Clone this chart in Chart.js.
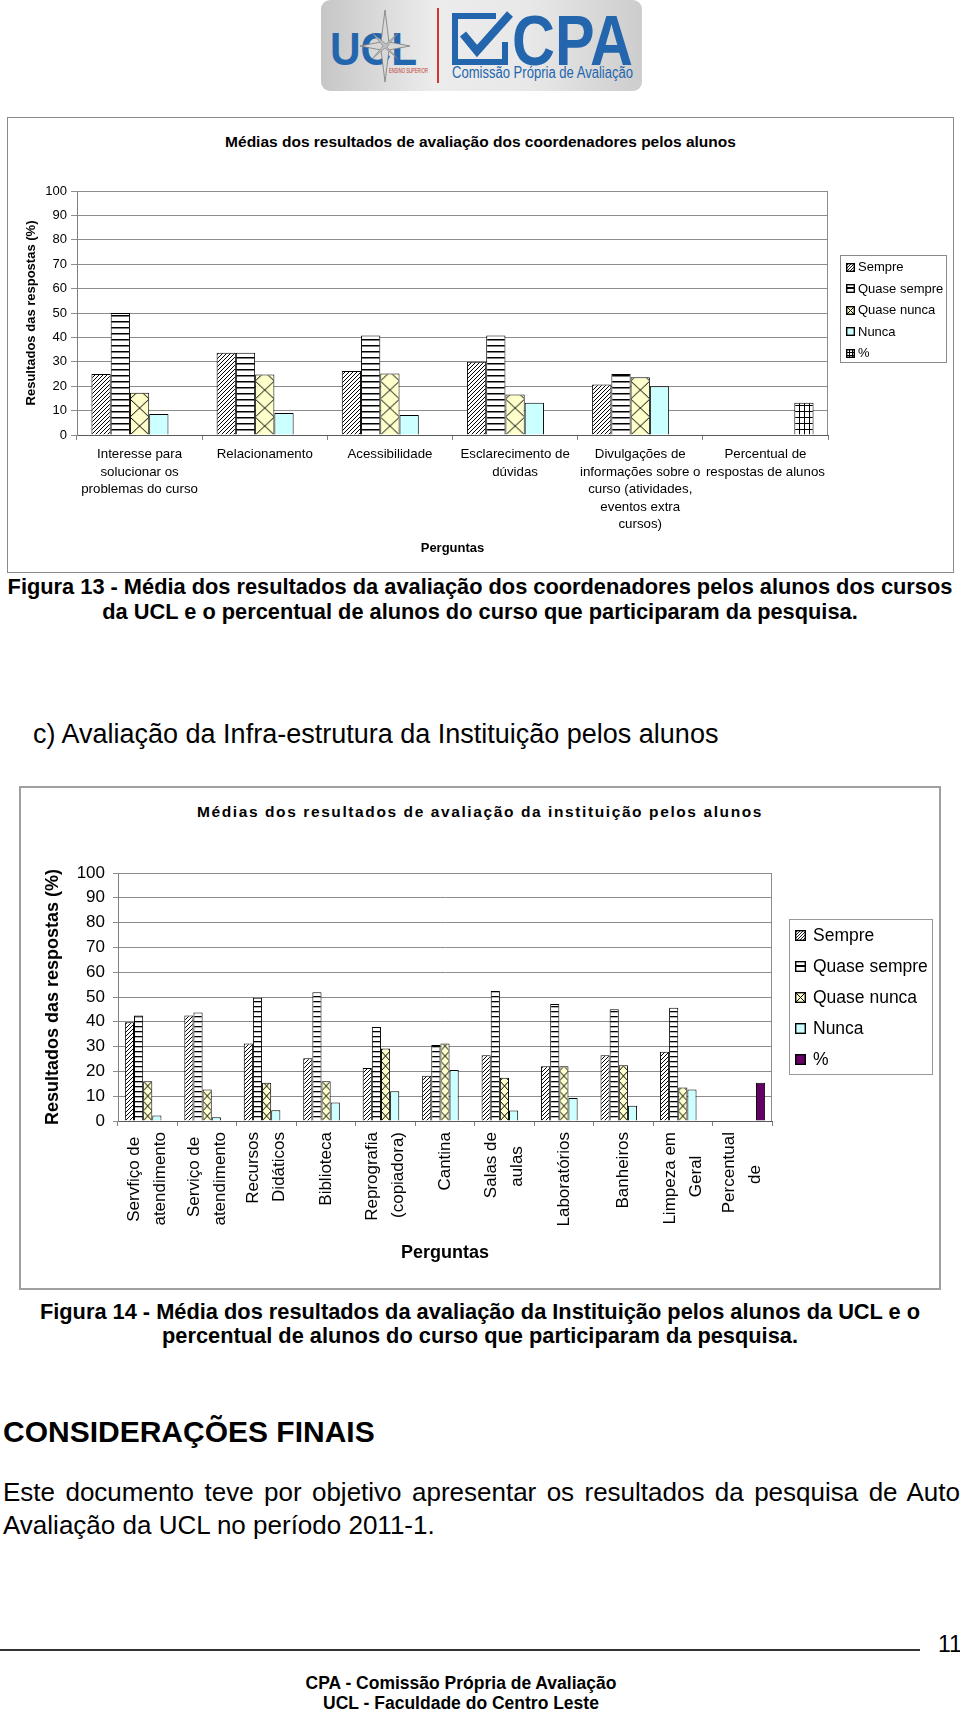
<!DOCTYPE html>
<html><head><meta charset="utf-8">
<script src="https://cdn.jsdelivr.net/npm/chart.js@4.4.1/dist/chart.umd.min.js"></script>
<style>
*{box-sizing:border-box;}
html,body{margin:0;padding:0;background:#fff;}
body{width:960px;height:1710px;position:relative;overflow:hidden;font-family:"Liberation Sans",Arial,Helvetica,sans-serif;color:#000;}
.t{position:absolute;white-space:nowrap;}
.box{position:absolute;}
canvas.chart{position:absolute;}
.leg{position:absolute;}
.sw{position:absolute;}
.lt{position:absolute;white-space:nowrap;}
</style></head><body>

<svg class="box" style="left:320px;top:0px" width="323" height="93" viewBox="0 0 323 93">
  <defs>
    <linearGradient id="lg" x1="0" y1="0" x2="1" y2="0">
      <stop offset="0" stop-color="#c6c6c6"/>
      <stop offset="0.35" stop-color="#ececec"/>
      <stop offset="0.65" stop-color="#e8e8e8"/>
      <stop offset="1" stop-color="#cdcdcd"/>
    </linearGradient>
  </defs>
  <rect x="1" y="0" width="321" height="91" rx="9" fill="url(#lg)"/>
  <text x="10" y="65" font-family="Liberation Sans, Arial" font-weight="bold" font-size="46" fill="#2466ad" textLength="87" lengthAdjust="spacingAndGlyphs">UCL</text>
  <polygon points="65,10 69,42 90,46 69,50 65,82 61,50 40,46 61,42" fill="#d8d8d8" stroke="#7a7a7a" stroke-width="0.8"/>
  <polygon points="52,33 66,44 78,33 67,47 78,59 65,48 52,59 63,46" fill="#bdbdbd" stroke="#7a7a7a" stroke-width="0.6"/>
  <text x="69" y="73" font-family="Liberation Sans, Arial" font-size="6.5" fill="#c0392b" textLength="39" lengthAdjust="spacingAndGlyphs">ENSINO SUPERIOR</text>
  <line x1="118" y1="8" x2="118" y2="83" stroke="#d9342b" stroke-width="2"/>
  <path d="M176 16 L135 16 L135 62 L185 62 L185 42" fill="none" stroke="#2466ad" stroke-width="6"/>
  <path d="M143 34 L157 51 L190 14" fill="none" stroke="#2466ad" stroke-width="8"/>
  <text x="192" y="65" font-family="Liberation Sans, Arial" font-weight="bold" font-size="70" fill="#2466ad" textLength="121" lengthAdjust="spacingAndGlyphs">CPA</text>
  <text x="132" y="78" font-family="Liberation Sans, Arial" font-size="16" fill="#2466ad" textLength="181" lengthAdjust="spacingAndGlyphs">Comissão Própria de Avaliação</text>
</svg>

<!-- Chart 1 -->
<div class="box" style="left:7px;top:117px;width:947px;height:456px;border:1px solid #8a8a8a;"></div>
<div class="t" style="left:7px;width:947px;top:132px;line-height:20px;text-align:center;font-weight:bold;font-size:15.5px;">Médias dos resultados de avaliação dos coordenadores pelos alunos</div>
<canvas id="c1" class="chart" width="945" height="454" style="left:8px;top:118px;width:945px;height:454px;"></canvas>
<div class="leg" id="leg1" style="left:840px;top:255px;width:107px;height:108px;border:1px solid #8a8a8a;"></div>

<div class="t" style="left:0;width:960px;top:574px;line-height:25px;text-align:center;font-weight:bold;font-size:21.8px;">Figura 13 - Média dos resultados da avaliação dos coordenadores pelos alunos dos cursos<br>da UCL e o percentual de alunos do curso que participaram da pesquisa.</div>

<div class="t" style="left:33px;top:718px;line-height:32px;font-size:27px;">c) Avaliação da Infra-estrutura da Instituição pelos alunos</div>

<!-- Chart 2 -->
<div class="box" style="left:19px;top:786px;width:922px;height:504px;border:2px solid #a0a0a0;"></div>
<div class="t" style="left:19px;width:922px;top:802px;line-height:20px;text-align:center;font-weight:bold;font-size:15.5px;letter-spacing:1.6px;">Médias dos resultados de avaliação da instituição pelos alunos</div>
<canvas id="c2" class="chart" width="918" height="500" style="left:21px;top:788px;width:918px;height:500px;"></canvas>
<div class="leg" id="leg2" style="left:789px;top:919px;width:144px;height:156px;border:1px solid #999;"></div>

<div class="t" style="left:0;width:960px;top:1300px;line-height:24px;text-align:center;font-weight:bold;font-size:21.8px;">Figura 14 - Média dos resultados da avaliação da Instituição pelos alunos da UCL e o<br>percentual de alunos do curso que participaram da pesquisa.</div>

<div class="t" style="left:3px;top:1414px;line-height:36px;font-weight:bold;font-size:30px;">CONSIDERAÇÕES FINAIS</div>
<div class="t" style="left:3px;width:957px;top:1476px;line-height:33px;font-size:26px;text-align:justify;text-align-last:justify;white-space:normal;">Este documento teve por objetivo apresentar os resultados da pesquisa de Auto</div>
<div class="t" style="left:3px;top:1509px;line-height:33px;font-size:26px;">Avaliação da UCL no período 2011-1.</div>

<div class="box" style="left:0;top:1649px;width:920px;height:1.5px;background:#333;"></div>
<div class="t" style="left:938px;top:1630px;line-height:28px;font-size:23px;">11</div>
<div class="t" style="left:0;width:922px;top:1673px;line-height:20px;text-align:center;font-weight:bold;font-size:17.5px;">CPA - Comissão Própria de Avaliação<br>UCL - Faculdade do Centro Leste</div>

<script>
// ---------------- DATA ----------------
const seriesNames = ["Sempre", "Quase sempre", "Quase nunca", "Nunca", "%"];
const yTickValues = [0, 10, 20, 30, 40, 50, 60, 70, 80, 90, 100];

const c1Categories = [
  ["Interesse para", "solucionar os", "problemas do curso"],
  ["Relacionamento"],
  ["Acessibilidade"],
  ["Esclarecimento de", "dúvidas"],
  ["Divulgações de", "informações sobre o", "curso (atividades,", "eventos extra", "cursos)"],
  ["Percentual de", "respostas de alunos"]
];
const c1Sempre       = [25.0, 33.7, 26.2, 30.0, 20.7, null];
const c1QuaseSempre  = [50.0, 33.7, 40.8, 40.8, 25.0, null];
const c1QuaseNunca   = [17.3, 24.8, 25.2, 16.6, 23.7, null];
const c1Nunca        = [ 8.6,  9.0,  8.2, 13.2, 20.0, null];
const c1Percent      = [null, null, null, null, null, 13.2];

const c2Categories = [
  ["Servfiço de", "atendimento"],
  ["Serviço de", "atendimento"],
  ["Recursos", "Didáticos"],
  ["Biblioteca"],
  ["Reprografia", "(copiadora)"],
  ["Cantina"],
  ["Salas de", "aulas"],
  ["Laboratórios"],
  ["Banheiros"],
  ["Limpeza em", "Geral"],
  ["Percentual", "de"]
];
const c2Sempre      = [39.8, 42.5, 31.3, 25.3, 21.4, 18.2, 26.5, 22.1, 26.5, 27.9, null];
const c2QuaseSempre = [42.5, 43.8, 49.7, 51.9, 37.9, 30.6, 52.4, 47.2, 45.1, 45.7, null];
const c2QuaseNunca  = [16.0, 12.7, 15.4, 16.0, 29.2, 31.3, 17.4, 22.1, 22.5, 13.5, null];
const c2Nunca       = [ 2.2,  1.5,  4.3,  7.5, 12.0, 20.6,  4.2,  9.3,  6.1, 12.7, null];
const c2Percent     = [null, null, null, null, null, null, null, null, null, null, 15.4];

// ---------------- STYLE HELPERS ----------------
const FAMILY = '"Liberation Sans", Arial, Helvetica, sans-serif';
Chart.defaults.font.family = FAMILY;
Chart.defaults.color = '#000';
const CAT_PCT = 5 / 6.5;

function buildTile(kind, s) {
  const c = document.createElement('canvas');
  c.width = s.w; c.height = s.h;
  const g = c.getContext('2d');
  g.fillStyle = s.bg || '#fff';
  g.fillRect(0, 0, s.w, s.h);
  g.strokeStyle = '#000'; g.fillStyle = '#000';
  g.lineWidth = s.lw || 1;
  if (kind === 'diag') {
    g.beginPath();
    for (let k = -1; k <= 1; k++) { g.moveTo(k * s.w, s.h); g.lineTo(k * s.w + s.w, 0); }
    g.stroke();
  } else if (kind === 'horiz') {
    g.fillRect(0, 0, s.w, s.lw || 1);
  } else if (kind === 'cross') {
    g.beginPath();
    g.moveTo(0, 0); g.lineTo(s.w, s.h);
    g.moveTo(s.w, 0); g.lineTo(0, s.h);
    g.stroke();
  } else if (kind === 'grid') {
    g.fillRect(0, 0, s.w, 1);
    g.fillRect(0, 0, 1, s.h);
  }
  return c;
}

function barFill(kind, spec) {
  if (kind === 'solid') return spec.color;
  const tile = buildTile(kind, spec);
  return function (ctx) {
    const chart = ctx.chart;
    const g = chart.ctx;
    const xs = chart.scales && chart.scales.x;
    const ys = chart.scales && chart.scales.y;
    const p = g.createPattern(tile, 'repeat');
    if (ctx.type !== 'data' || !xs || !xs.width || !ys) return p;
    const n = chart.data.labels.length;
    const size = (xs.width / n) * CAT_PCT;
    const chunk = size / chart.data.datasets.length;
    const left = xs.getPixelForValue(ctx.dataIndex) - size / 2 + chunk * ctx.datasetIndex;
    const base = Math.round(ys.getPixelForValue(0));
    const sx = spec.fit ? chunk / tile.width : 1;
    p.setTransform(new DOMMatrix().translate(spec.fit ? left : Math.round(left), base).scale(sx, 1));
    return p;
  };
}

const plotFrame = {
  id: 'plotFrame',
  beforeDatasetsDraw(chart, args, opts) {
    const { ctx, chartArea: a } = chart;
    ctx.save();
    ctx.strokeStyle = opts.color || '#808080';
    ctx.lineWidth = 1;
    const r = Math.round(a.right) - 0.5, t = Math.round(a.top) + 0.5;
    ctx.beginPath();
    ctx.moveTo(Math.round(a.left), t); ctx.lineTo(r, t); ctx.lineTo(r, Math.round(a.bottom));
    ctx.stroke();
    ctx.restore();
  }
};

function makeDatasets(values, fills) {
  return values.map((v, i) => ({
    label: seriesNames[i],
    data: v,
    backgroundColor: fills[i],
    borderColor: '#000',
    borderWidth: 1,
    borderSkipped: 'bottom',
    categoryPercentage: CAT_PCT,
    barPercentage: 1
  }));
}

// ---------------- CHART 1 ----------------
const fills1 = [
  barFill('diag', { w: 4, h: 4, lw: 1 }),
  barFill('horiz', { w: 1, h: 6, lw: 1.5 }),
  barFill('cross', { w: 19, h: 18, lw: 1, bg: '#ffffcc', fit: true }),
  barFill('solid', { color: '#ccffff' }),
  barFill('grid', { w: 5, h: 6 })
];

new Chart(document.getElementById('c1'), {
  type: 'bar',
  data: {
    labels: c1Categories,
    datasets: makeDatasets([c1Sempre, c1QuaseSempre, c1QuaseNunca, c1Nunca, c1Percent], fills1)
  },
  plugins: [plotFrame],
  options: {
    responsive: false, animation: false, devicePixelRatio: 1,
    layout: { padding: { top: 73, right: 125, left: 0, bottom: 0 } },
    plugins: { legend: { display: false }, tooltip: { enabled: false }, title: { display: false }, plotFrame: { color: '#8c8c8c' } },
    scales: {
      x: {
        afterFit: (s) => { s.height = 137; },
        grid: { display: true, drawOnChartArea: false, drawTicks: true, tickLength: 5, color: '#808080', offset: true },
        border: { display: true, color: '#5a5a5a' },
        ticks: { maxRotation: 0, minRotation: 0, autoSkip: false, padding: 6, font: { size: 13.3, lineHeight: '17.5px' }, color: '#000' },
        title: { display: true, text: 'Perguntas', font: { size: 13, weight: 'bold' }, padding: { top: 0, bottom: 16 } }
      },
      y: {
        min: 0, max: 100,
        afterFit: (s) => { s.width = 69; },
        afterBuildTicks: (s) => { s.ticks = yTickValues.map(v => ({ value: v })); },
        grid: { color: '#8c8c8c', tickLength: 6, drawTicks: true },
        border: { display: true, color: '#808080' },
        ticks: { stepSize: 10, padding: 4, font: { size: 13 }, color: '#000' },
        title: { display: true, text: 'Resultados das respostas (%)', font: { size: 13, weight: 'bold' }, padding: { top: 16, bottom: 0 } }
      }
    }
  }
});

// ---------------- CHART 2 ----------------
const fills2 = [
  barFill('diag', { w: 4, h: 4, lw: 1 }),
  barFill('horiz', { w: 1, h: 5, lw: 1.3 }),
  barFill('cross', { w: 9, h: 10, lw: 1, bg: '#ffffcc', fit: true }),
  barFill('solid', { color: '#ccffff' }),
  barFill('solid', { color: '#660066' })
];

const LABEL2_SIZE = 17;
const measureCtx = document.createElement('canvas').getContext('2d');
measureCtx.font = LABEL2_SIZE + 'px ' + FAMILY;
const NB = '\u00A0';
const nbW = measureCtx.measureText(NB).width || (LABEL2_SIZE * 0.278);

new Chart(document.getElementById('c2'), {
  type: 'bar',
  data: {
    labels: c2Categories,
    datasets: makeDatasets([c2Sempre, c2QuaseSempre, c2QuaseNunca, c2Nunca, c2Percent], fills2)
  },
  plugins: [plotFrame],
  options: {
    responsive: false, animation: false, devicePixelRatio: 1,
    layout: { padding: { top: 85, right: 167, left: 0, bottom: 0 } },
    plugins: { legend: { display: false }, tooltip: { enabled: false }, title: { display: false }, plotFrame: { color: '#8c8c8c' } },
    scales: {
      x: {
        afterFit: (s) => { s.height = 167; },
        grid: { display: true, drawOnChartArea: false, drawTicks: true, tickLength: 5, color: '#808080', offset: true },
        border: { display: true, color: '#5a5a5a' },
        ticks: {
          maxRotation: 90, minRotation: 90, autoSkip: false, padding: 6, labelOffset: -13, color: '#000',
          font: (c) => ({ size: LABEL2_SIZE, lineHeight: (c2Categories[c.index] && c2Categories[c.index].length === 1) ? '13px' : '26px' }),
          callback: function (value, index) {
            const lines = c2Categories[index];
            if (lines.length === 1) return ['', lines[0]];
            const w = lines.map(l => measureCtx.measureText(l).width);
            const mx = Math.max.apply(null, w);
            return lines.map((l, i) => l + NB.repeat(Math.round((mx - w[i]) / 2 / nbW)));
          }
        },
        title: { display: true, text: 'Perguntas', font: { size: 18, weight: 'bold' }, padding: { top: 0, bottom: 24 } }
      },
      y: {
        min: 0, max: 100,
        afterFit: (s) => { s.width = 97; },
        afterBuildTicks: (s) => { s.ticks = yTickValues.map(v => ({ value: v })); },
        grid: { color: '#8c8c8c', tickLength: 5, drawTicks: true },
        border: { display: true, color: '#808080' },
        ticks: { stepSize: 10, padding: 8, font: { size: 17 }, color: '#000' },
        title: { display: true, text: 'Resultados das respostas (%)', font: { size: 18, weight: 'bold' }, padding: { top: 21, bottom: 0 } }
      }
    }
  }
});

// ---------------- HTML LEGENDS ----------------
function drawSwatch(size, kind, spec) {
  const c = document.createElement('canvas');
  c.width = size; c.height = size;
  const g = c.getContext('2d');
  if (kind === 'solid') { g.fillStyle = spec.color; }
  else if (kind === 'midline') { g.fillStyle = '#fff'; }
  else { g.fillStyle = g.createPattern(buildTile(kind, spec), 'repeat'); }
  g.fillRect(0, 0, size, size);
  g.fillStyle = '#000';
  if (kind === 'midline') g.fillRect(0, Math.floor(size / 2) - 1, size, 2);
  g.strokeStyle = '#000'; g.lineWidth = 1.4;
  g.strokeRect(0.7, 0.7, size - 1.4, size - 1.4);
  return c;
}

function buildLegend(pageLeft, firstY, step, boxSize, textX, fontSize, swatches) {
  swatches.forEach((sw, i) => {
    const cy = firstY + step * i;
    const c = drawSwatch(boxSize, sw[0], sw[1]);
    c.className = 'sw';
    c.style.left = pageLeft + 'px';
    c.style.top = Math.round(cy - boxSize / 2) + 'px';
    document.body.appendChild(c);
    const d = document.createElement('div');
    d.className = 'lt';
    d.style.left = textX + 'px';
    d.style.top = (cy - fontSize * 0.6) + 'px';
    d.style.lineHeight = (fontSize * 1.2) + 'px';
    d.style.fontSize = fontSize + 'px';
    d.textContent = seriesNames[i];
    document.body.appendChild(d);
  });
}

buildLegend(846, 267, 21.5, 9, 858, 13, [
  ['diag', { w: 3, h: 3, lw: 0.9 }],
  ['midline', {}],
  ['cross', { w: 9, h: 9, lw: 1, bg: '#ffffcc' }],
  ['solid', { color: '#ccffff' }],
  ['grid', { w: 3, h: 3 }]
]);

buildLegend(795, 935, 31, 11, 813, 17.5, [
  ['diag', { w: 3, h: 3, lw: 0.9 }],
  ['midline', {}],
  ['cross', { w: 11, h: 11, lw: 1, bg: '#ffffcc' }],
  ['solid', { color: '#ccffff' }],
  ['solid', { color: '#660066' }]
]);
</script>
</body></html>
